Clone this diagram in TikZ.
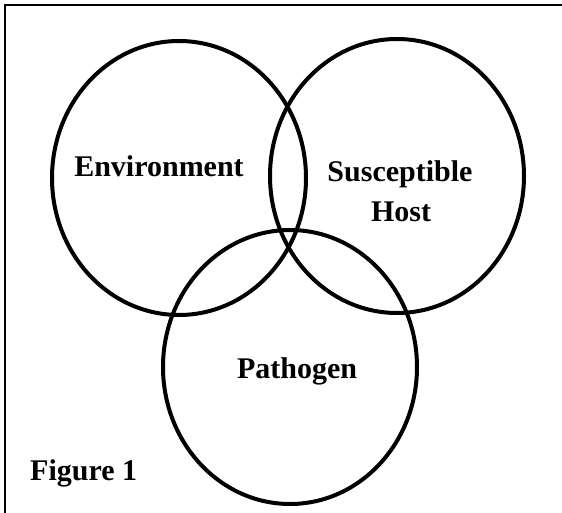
\documentclass[tikz,border=0pt]{standalone}
\usepackage{fontspec}
\setmainfont{Liberation Serif}
\usetikzlibrary{shapes.geometric}
\begin{document}
\begin{tikzpicture}[x=1pt,y=-1pt,
  venn/.style={draw=black, line width=4pt, ellipse, inner sep=0pt,
               minimum width=254pt, minimum height=274pt},
  lbl/.style={font=\fontsize{30}{40}\selectfont\bfseries, anchor=base, inner sep=0pt, align=center},
  frame/.style={line width=1.8pt}]
\useasboundingbox (0,0) rectangle (562,513);
\coordinate (fa) at (5,513);
\coordinate (fb) at (5,5);
\coordinate (fc) at (562,5);
\draw[frame] (fa) -- (fb) -- (fc);
\node[venn] (env) at (179,178) {};
\node[venn] (host) at (397,176) {};
\node[venn] (path) at (290,367) {};
\node[lbl] (tenv) at (159,177) {Environment};
\node[lbl] (thost) at (400,182) {Susceptible};
\node[lbl] (thost2) at (401,222) {Host};
\node[lbl] (tpath) at (297,378) {Pathogen};
\node[lbl, anchor=base west] (tfig) at (30,480) {Figure 1};
\end{tikzpicture}
\end{document}
